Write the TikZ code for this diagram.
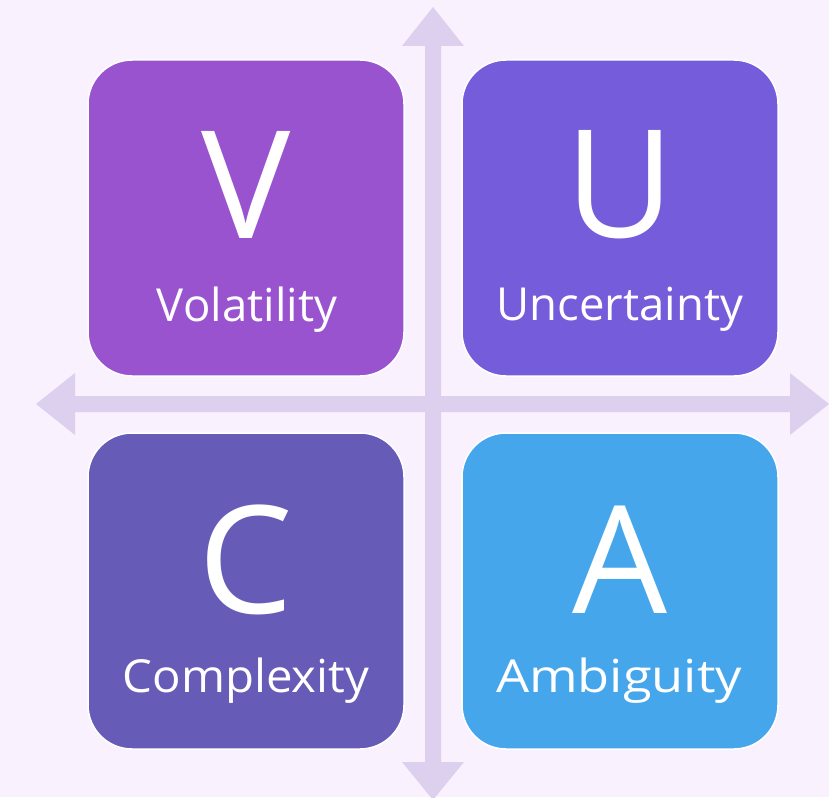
\documentclass[tikz,border=0pt]{standalone}
\usepackage{fontspec}
\setmainfont{Open Sans}
\definecolor{bgc}{HTML}{F9F1FD}
\definecolor{axisc}{HTML}{DDD0EE}
\definecolor{vcol}{HTML}{9A53CE}
\definecolor{ucol}{HTML}{755CDA}
\definecolor{ccol}{HTML}{665CB8}
\definecolor{acol}{HTML}{46A6EC}
\tikzset{
  quad/.style={draw=white, line width=1.5pt, rounded corners=44pt, minimum width=316pt, minimum height=316pt, inner sep=0pt},
  bigletter/.style={text=white, font=\fontsize{150}{150}\selectfont, inner sep=0pt},
  label/.style={text=white, font=\fontsize{45.5}{45.5}\selectfont, inner sep=0pt, anchor=base},
}
\begin{document}
\begin{tikzpicture}[x=1pt,y=-1pt]
\fill[bgc] (0,0) rectangle (829,797);
\useasboundingbox (0,0) rectangle (829,797);
% axes
\fill[axisc] (425,46) -- (402,46) -- (433,7) -- (464,46) -- (441,46) -- (441,762) -- (464,762) -- (433,800) -- (402,762) -- (425,762) -- cycle;
\fill[axisc] (75,396) -- (75,373) -- (36,404) -- (75,435) -- (75,412) -- (790,412) -- (790,435) -- (829,404) -- (790,373) -- (790,396) -- cycle;
% boxes
\node[quad, fill=vcol] (v) at (246,218) {};
\node[quad, fill=ucol] (u) at (620,218) {};
\node[quad, fill=ccol] (c) at (246,591) {};
\node[quad, fill=acol] (a) at (620,591) {};
% letters
\node[bigletter] (lv) at (246,185) {V};
\node[bigletter] (lu) at (620,185) {U};
\node[bigletter] (lc) at (246,560) {C};
\node[bigletter] (la) at (620,560) {A};
% labels
\node[label] (tv) at (247,321) {Volatility};
\node[label] (tu) at (620,320) {Uncertainty};
\node[label, xscale=1.04] (tc) at (246,692) {Complexity};
\node[label, xscale=1.15] (ta) at (619,692) {Ambiguity};
\end{tikzpicture}
\end{document}
